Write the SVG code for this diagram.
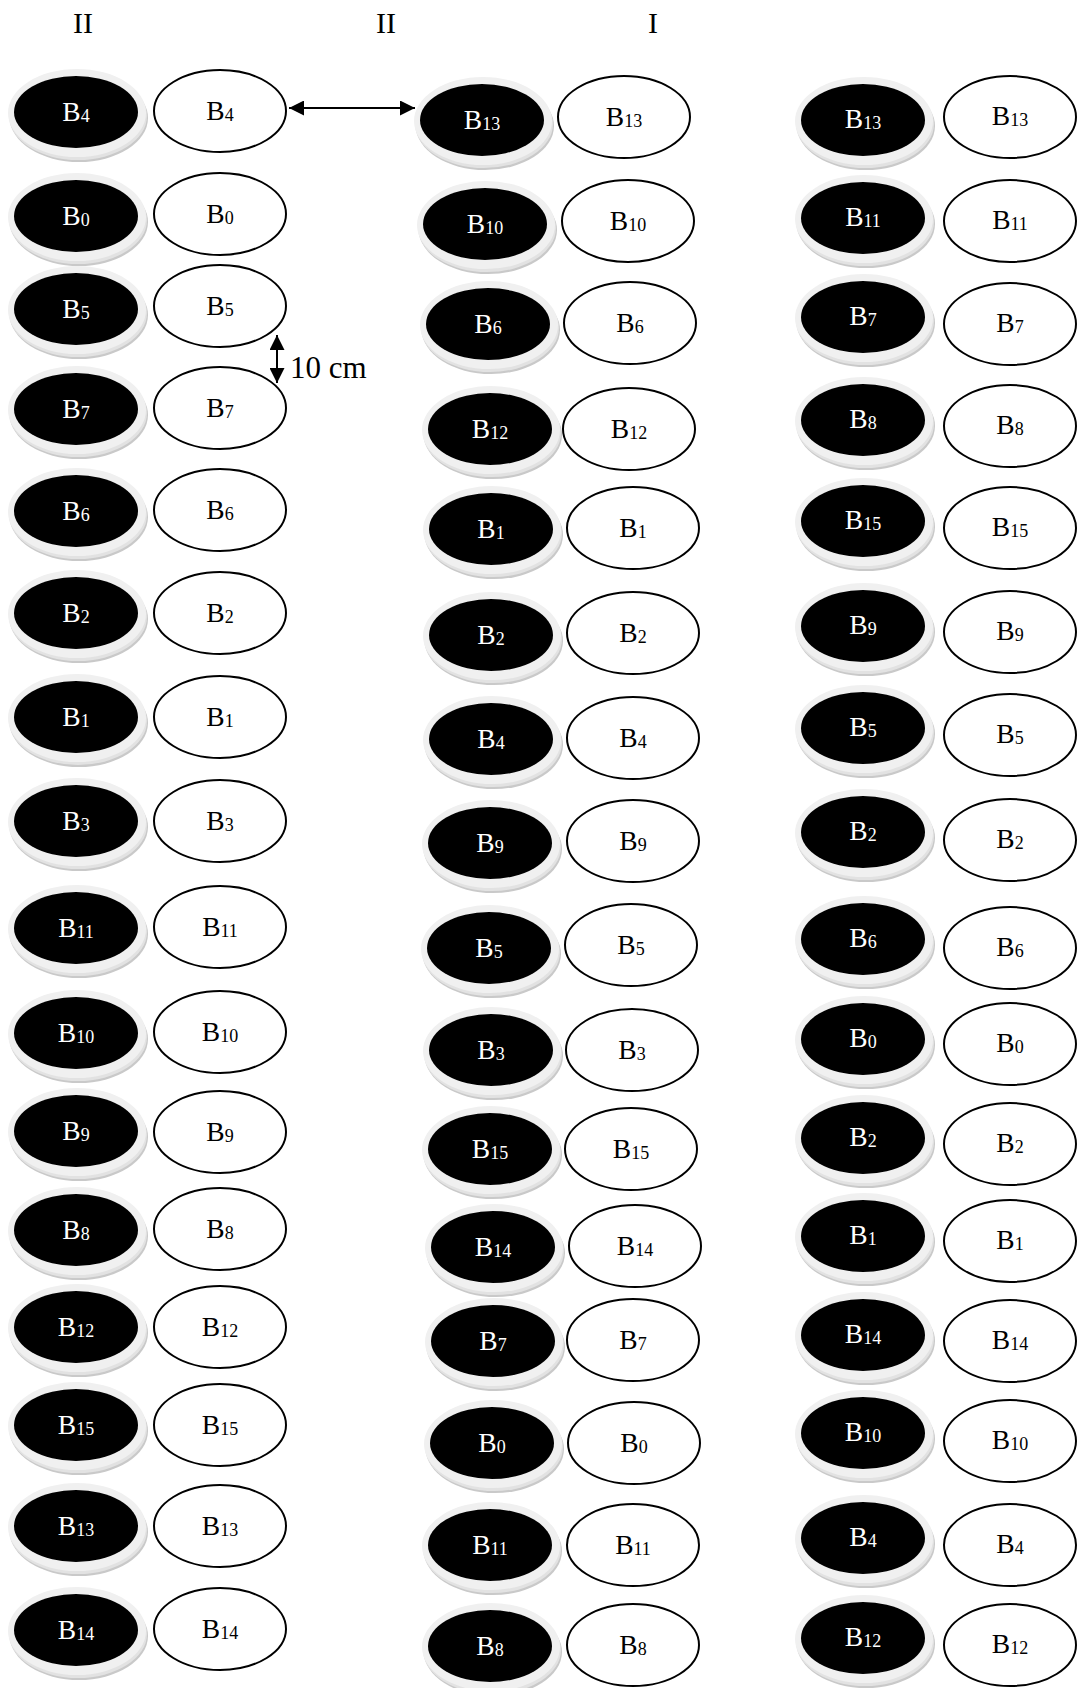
<svg xmlns="http://www.w3.org/2000/svg" xmlns:xlink="http://www.w3.org/1999/xlink" width="1079" height="1688" viewBox="0 0 1079 1688">
<style>
.w{fill:#fff;stroke:#000;stroke-width:2}
.lb{font-family:"Liberation Serif","Times New Roman",serif;font-size:27.5px;text-anchor:middle;fill:#000}
.lbw{fill:#fff}
.sub{font-size:18px}
.hd{font-family:"Liberation Serif","Times New Roman",serif;font-size:30px;text-anchor:middle;fill:#000}
.cm{font-family:"Liberation Serif","Times New Roman",serif;font-size:31px;fill:#000}
.conn{stroke:#000;stroke-width:2;fill:none}
</style>
<defs>
<g id="disc">
<ellipse cx="3" cy="6" rx="69" ry="44" fill="#c9c9c9"/>
<ellipse cx="2" cy="4" rx="69" ry="44" fill="#e2e2e2"/>
<ellipse cx="1" cy="1" rx="69" ry="44" fill="#f0f0f0"/>
<ellipse cx="0" cy="0" rx="62" ry="36" fill="#000"/>
</g>
<marker id="ah" viewBox="0 0 10 10" refX="10" refY="5" markerUnits="userSpaceOnUse" markerWidth="16" markerHeight="15" orient="auto-start-reverse">
<path d="M0,0 L10,5 L0,10 z" fill="#000"/>
</marker>
</defs>

<g id="headers">
<text class="hd" x="83" y="33">II</text>
<text class="hd" x="386" y="33">II</text>
<text class="hd" x="653" y="33">I</text>
</g>

<g id="connectors">
<line class="conn" x1="289" y1="108" x2="415" y2="108" marker-start="url(#ah)" marker-end="url(#ah)"/>
<line class="conn" x1="277" y1="335" x2="277" y2="383" marker-start="url(#ah)" marker-end="url(#ah)"/>
<text class="cm" x="290" y="378">10 cm</text>
</g>

<!-- Column 1 -->
<g id="c1-b4-dark"><use xlink:href="#disc" x="76" y="112"/><text class="lb lbw" x="76" y="121">B<tspan class="sub" dy="1">4</tspan></text></g>
<g id="c1-b4-light"><ellipse class="w" cx="220" cy="111" rx="66" ry="41"/><text class="lb" x="220" y="120">B<tspan class="sub" dy="1">4</tspan></text></g>
<g id="c1-b0-dark"><use xlink:href="#disc" x="76" y="216"/><text class="lb lbw" x="76" y="225">B<tspan class="sub" dy="1">0</tspan></text></g>
<g id="c1-b0-light"><ellipse class="w" cx="220" cy="214" rx="66" ry="41"/><text class="lb" x="220" y="223">B<tspan class="sub" dy="1">0</tspan></text></g>
<g id="c1-b5-dark"><use xlink:href="#disc" x="76" y="309"/><text class="lb lbw" x="76" y="318">B<tspan class="sub" dy="1">5</tspan></text></g>
<g id="c1-b5-light"><ellipse class="w" cx="220" cy="306" rx="66" ry="41"/><text class="lb" x="220" y="315">B<tspan class="sub" dy="1">5</tspan></text></g>
<g id="c1-b7-dark"><use xlink:href="#disc" x="76" y="409"/><text class="lb lbw" x="76" y="418">B<tspan class="sub" dy="1">7</tspan></text></g>
<g id="c1-b7-light"><ellipse class="w" cx="220" cy="408" rx="66" ry="41"/><text class="lb" x="220" y="417">B<tspan class="sub" dy="1">7</tspan></text></g>
<g id="c1-b6-dark"><use xlink:href="#disc" x="76" y="511"/><text class="lb lbw" x="76" y="520">B<tspan class="sub" dy="1">6</tspan></text></g>
<g id="c1-b6-light"><ellipse class="w" cx="220" cy="510" rx="66" ry="41"/><text class="lb" x="220" y="519">B<tspan class="sub" dy="1">6</tspan></text></g>
<g id="c1-b2-dark"><use xlink:href="#disc" x="76" y="613"/><text class="lb lbw" x="76" y="622">B<tspan class="sub" dy="1">2</tspan></text></g>
<g id="c1-b2-light"><ellipse class="w" cx="220" cy="613" rx="66" ry="41"/><text class="lb" x="220" y="622">B<tspan class="sub" dy="1">2</tspan></text></g>
<g id="c1-b1-dark"><use xlink:href="#disc" x="76" y="717"/><text class="lb lbw" x="76" y="726">B<tspan class="sub" dy="1">1</tspan></text></g>
<g id="c1-b1-light"><ellipse class="w" cx="220" cy="717" rx="66" ry="41"/><text class="lb" x="220" y="726">B<tspan class="sub" dy="1">1</tspan></text></g>
<g id="c1-b3-dark"><use xlink:href="#disc" x="76" y="821"/><text class="lb lbw" x="76" y="830">B<tspan class="sub" dy="1">3</tspan></text></g>
<g id="c1-b3-light"><ellipse class="w" cx="220" cy="821" rx="66" ry="41"/><text class="lb" x="220" y="830">B<tspan class="sub" dy="1">3</tspan></text></g>
<g id="c1-b11-dark"><use xlink:href="#disc" x="76" y="928"/><text class="lb lbw" x="76" y="937">B<tspan class="sub" dy="1">11</tspan></text></g>
<g id="c1-b11-light"><ellipse class="w" cx="220" cy="927" rx="66" ry="41"/><text class="lb" x="220" y="936">B<tspan class="sub" dy="1">11</tspan></text></g>
<g id="c1-b10-dark"><use xlink:href="#disc" x="76" y="1033"/><text class="lb lbw" x="76" y="1042">B<tspan class="sub" dy="1">10</tspan></text></g>
<g id="c1-b10-light"><ellipse class="w" cx="220" cy="1032" rx="66" ry="41"/><text class="lb" x="220" y="1041">B<tspan class="sub" dy="1">10</tspan></text></g>
<g id="c1-b9-dark"><use xlink:href="#disc" x="76" y="1131"/><text class="lb lbw" x="76" y="1140">B<tspan class="sub" dy="1">9</tspan></text></g>
<g id="c1-b9-light"><ellipse class="w" cx="220" cy="1132" rx="66" ry="41"/><text class="lb" x="220" y="1141">B<tspan class="sub" dy="1">9</tspan></text></g>
<g id="c1-b8-dark"><use xlink:href="#disc" x="76" y="1230"/><text class="lb lbw" x="76" y="1239">B<tspan class="sub" dy="1">8</tspan></text></g>
<g id="c1-b8-light"><ellipse class="w" cx="220" cy="1229" rx="66" ry="41"/><text class="lb" x="220" y="1238">B<tspan class="sub" dy="1">8</tspan></text></g>
<g id="c1-b12-dark"><use xlink:href="#disc" x="76" y="1327"/><text class="lb lbw" x="76" y="1336">B<tspan class="sub" dy="1">12</tspan></text></g>
<g id="c1-b12-light"><ellipse class="w" cx="220" cy="1327" rx="66" ry="41"/><text class="lb" x="220" y="1336">B<tspan class="sub" dy="1">12</tspan></text></g>
<g id="c1-b15-dark"><use xlink:href="#disc" x="76" y="1425"/><text class="lb lbw" x="76" y="1434">B<tspan class="sub" dy="1">15</tspan></text></g>
<g id="c1-b15-light"><ellipse class="w" cx="220" cy="1425" rx="66" ry="41"/><text class="lb" x="220" y="1434">B<tspan class="sub" dy="1">15</tspan></text></g>
<g id="c1-b13-dark"><use xlink:href="#disc" x="76" y="1526"/><text class="lb lbw" x="76" y="1535">B<tspan class="sub" dy="1">13</tspan></text></g>
<g id="c1-b13-light"><ellipse class="w" cx="220" cy="1526" rx="66" ry="41"/><text class="lb" x="220" y="1535">B<tspan class="sub" dy="1">13</tspan></text></g>
<g id="c1-b14-dark"><use xlink:href="#disc" x="76" y="1630"/><text class="lb lbw" x="76" y="1639">B<tspan class="sub" dy="1">14</tspan></text></g>
<g id="c1-b14-light"><ellipse class="w" cx="220" cy="1629" rx="66" ry="41"/><text class="lb" x="220" y="1638">B<tspan class="sub" dy="1">14</tspan></text></g>

<!-- Column 2 -->
<g id="c2-b13-dark"><use xlink:href="#disc" x="482" y="120"/><text class="lb lbw" x="482" y="129">B<tspan class="sub" dy="1">13</tspan></text></g>
<g id="c2-b13-light"><ellipse class="w" cx="624" cy="117" rx="66" ry="41"/><text class="lb" x="624" y="126">B<tspan class="sub" dy="1">13</tspan></text></g>
<g id="c2-b10-dark"><use xlink:href="#disc" x="485" y="224"/><text class="lb lbw" x="485" y="233">B<tspan class="sub" dy="1">10</tspan></text></g>
<g id="c2-b10-light"><ellipse class="w" cx="628" cy="221" rx="66" ry="41"/><text class="lb" x="628" y="230">B<tspan class="sub" dy="1">10</tspan></text></g>
<g id="c2-b6-dark"><use xlink:href="#disc" x="488" y="324"/><text class="lb lbw" x="488" y="333">B<tspan class="sub" dy="1">6</tspan></text></g>
<g id="c2-b6-light"><ellipse class="w" cx="630" cy="323" rx="66" ry="41"/><text class="lb" x="630" y="332">B<tspan class="sub" dy="1">6</tspan></text></g>
<g id="c2-b12-dark"><use xlink:href="#disc" x="490" y="429"/><text class="lb lbw" x="490" y="438">B<tspan class="sub" dy="1">12</tspan></text></g>
<g id="c2-b12-light"><ellipse class="w" cx="629" cy="429" rx="66" ry="41"/><text class="lb" x="629" y="438">B<tspan class="sub" dy="1">12</tspan></text></g>
<g id="c2-b1-dark"><use xlink:href="#disc" x="491" y="529"/><text class="lb lbw" x="491" y="538">B<tspan class="sub" dy="1">1</tspan></text></g>
<g id="c2-b1-light"><ellipse class="w" cx="633" cy="528" rx="66" ry="41"/><text class="lb" x="633" y="537">B<tspan class="sub" dy="1">1</tspan></text></g>
<g id="c2-b2-dark"><use xlink:href="#disc" x="491" y="635"/><text class="lb lbw" x="491" y="644">B<tspan class="sub" dy="1">2</tspan></text></g>
<g id="c2-b2-light"><ellipse class="w" cx="633" cy="633" rx="66" ry="41"/><text class="lb" x="633" y="642">B<tspan class="sub" dy="1">2</tspan></text></g>
<g id="c2-b4-dark"><use xlink:href="#disc" x="491" y="739"/><text class="lb lbw" x="491" y="748">B<tspan class="sub" dy="1">4</tspan></text></g>
<g id="c2-b4-light"><ellipse class="w" cx="633" cy="738" rx="66" ry="41"/><text class="lb" x="633" y="747">B<tspan class="sub" dy="1">4</tspan></text></g>
<g id="c2-b9-dark"><use xlink:href="#disc" x="490" y="843"/><text class="lb lbw" x="490" y="852">B<tspan class="sub" dy="1">9</tspan></text></g>
<g id="c2-b9-light"><ellipse class="w" cx="633" cy="841" rx="66" ry="41"/><text class="lb" x="633" y="850">B<tspan class="sub" dy="1">9</tspan></text></g>
<g id="c2-b5-dark"><use xlink:href="#disc" x="489" y="948"/><text class="lb lbw" x="489" y="957">B<tspan class="sub" dy="1">5</tspan></text></g>
<g id="c2-b5-light"><ellipse class="w" cx="631" cy="945" rx="66" ry="41"/><text class="lb" x="631" y="954">B<tspan class="sub" dy="1">5</tspan></text></g>
<g id="c2-b3-dark"><use xlink:href="#disc" x="491" y="1050"/><text class="lb lbw" x="491" y="1059">B<tspan class="sub" dy="1">3</tspan></text></g>
<g id="c2-b3-light"><ellipse class="w" cx="632" cy="1050" rx="66" ry="41"/><text class="lb" x="632" y="1059">B<tspan class="sub" dy="1">3</tspan></text></g>
<g id="c2-b15-dark"><use xlink:href="#disc" x="490" y="1149"/><text class="lb lbw" x="490" y="1158">B<tspan class="sub" dy="1">15</tspan></text></g>
<g id="c2-b15-light"><ellipse class="w" cx="631" cy="1149" rx="66" ry="41"/><text class="lb" x="631" y="1158">B<tspan class="sub" dy="1">15</tspan></text></g>
<g id="c2-b14-dark"><use xlink:href="#disc" x="493" y="1247"/><text class="lb lbw" x="493" y="1256">B<tspan class="sub" dy="1">14</tspan></text></g>
<g id="c2-b14-light"><ellipse class="w" cx="635" cy="1246" rx="66" ry="41"/><text class="lb" x="635" y="1255">B<tspan class="sub" dy="1">14</tspan></text></g>
<g id="c2-b7-dark"><use xlink:href="#disc" x="493" y="1341"/><text class="lb lbw" x="493" y="1350">B<tspan class="sub" dy="1">7</tspan></text></g>
<g id="c2-b7-light"><ellipse class="w" cx="633" cy="1340" rx="66" ry="41"/><text class="lb" x="633" y="1349">B<tspan class="sub" dy="1">7</tspan></text></g>
<g id="c2-b0-dark"><use xlink:href="#disc" x="492" y="1443"/><text class="lb lbw" x="492" y="1452">B<tspan class="sub" dy="1">0</tspan></text></g>
<g id="c2-b0-light"><ellipse class="w" cx="634" cy="1443" rx="66" ry="41"/><text class="lb" x="634" y="1452">B<tspan class="sub" dy="1">0</tspan></text></g>
<g id="c2-b11-dark"><use xlink:href="#disc" x="490" y="1545"/><text class="lb lbw" x="490" y="1554">B<tspan class="sub" dy="1">11</tspan></text></g>
<g id="c2-b11-light"><ellipse class="w" cx="633" cy="1545" rx="66" ry="41"/><text class="lb" x="633" y="1554">B<tspan class="sub" dy="1">11</tspan></text></g>
<g id="c2-b8-dark"><use xlink:href="#disc" x="490" y="1646"/><text class="lb lbw" x="490" y="1655">B<tspan class="sub" dy="1">8</tspan></text></g>
<g id="c2-b8-light"><ellipse class="w" cx="633" cy="1645" rx="66" ry="41"/><text class="lb" x="633" y="1654">B<tspan class="sub" dy="1">8</tspan></text></g>

<!-- Column 3 -->
<g id="c3-b13-dark"><use xlink:href="#disc" x="863" y="120"/><text class="lb lbw" x="863" y="128">B<tspan class="sub" dy="1">13</tspan></text></g>
<g id="c3-b13-light"><ellipse class="w" cx="1010" cy="117" rx="66" ry="41"/><text class="lb" x="1010" y="125">B<tspan class="sub" dy="1">13</tspan></text></g>
<g id="c3-b11-dark"><use xlink:href="#disc" x="863" y="218"/><text class="lb lbw" x="863" y="226">B<tspan class="sub" dy="1">11</tspan></text></g>
<g id="c3-b11-light"><ellipse class="w" cx="1010" cy="221" rx="66" ry="41"/><text class="lb" x="1010" y="229">B<tspan class="sub" dy="1">11</tspan></text></g>
<g id="c3-b7-dark"><use xlink:href="#disc" x="863" y="317"/><text class="lb lbw" x="863" y="325">B<tspan class="sub" dy="1">7</tspan></text></g>
<g id="c3-b7-light"><ellipse class="w" cx="1010" cy="324" rx="66" ry="41"/><text class="lb" x="1010" y="332">B<tspan class="sub" dy="1">7</tspan></text></g>
<g id="c3-b8-dark"><use xlink:href="#disc" x="863" y="420"/><text class="lb lbw" x="863" y="428">B<tspan class="sub" dy="1">8</tspan></text></g>
<g id="c3-b8-light"><ellipse class="w" cx="1010" cy="426" rx="66" ry="41"/><text class="lb" x="1010" y="434">B<tspan class="sub" dy="1">8</tspan></text></g>
<g id="c3-b15-dark"><use xlink:href="#disc" x="863" y="521"/><text class="lb lbw" x="863" y="529">B<tspan class="sub" dy="1">15</tspan></text></g>
<g id="c3-b15-light"><ellipse class="w" cx="1010" cy="528" rx="66" ry="41"/><text class="lb" x="1010" y="536">B<tspan class="sub" dy="1">15</tspan></text></g>
<g id="c3-b9-dark"><use xlink:href="#disc" x="863" y="626"/><text class="lb lbw" x="863" y="634">B<tspan class="sub" dy="1">9</tspan></text></g>
<g id="c3-b9-light"><ellipse class="w" cx="1010" cy="632" rx="66" ry="41"/><text class="lb" x="1010" y="640">B<tspan class="sub" dy="1">9</tspan></text></g>
<g id="c3-b5-dark"><use xlink:href="#disc" x="863" y="728"/><text class="lb lbw" x="863" y="736">B<tspan class="sub" dy="1">5</tspan></text></g>
<g id="c3-b5-light"><ellipse class="w" cx="1010" cy="735" rx="66" ry="41"/><text class="lb" x="1010" y="743">B<tspan class="sub" dy="1">5</tspan></text></g>
<g id="c3-b2a-dark"><use xlink:href="#disc" x="863" y="832"/><text class="lb lbw" x="863" y="840">B<tspan class="sub" dy="1">2</tspan></text></g>
<g id="c3-b2a-light"><ellipse class="w" cx="1010" cy="840" rx="66" ry="41"/><text class="lb" x="1010" y="848">B<tspan class="sub" dy="1">2</tspan></text></g>
<g id="c3-b6-dark"><use xlink:href="#disc" x="863" y="939"/><text class="lb lbw" x="863" y="947">B<tspan class="sub" dy="1">6</tspan></text></g>
<g id="c3-b6-light"><ellipse class="w" cx="1010" cy="948" rx="66" ry="41"/><text class="lb" x="1010" y="956">B<tspan class="sub" dy="1">6</tspan></text></g>
<g id="c3-b0-dark"><use xlink:href="#disc" x="863" y="1039"/><text class="lb lbw" x="863" y="1047">B<tspan class="sub" dy="1">0</tspan></text></g>
<g id="c3-b0-light"><ellipse class="w" cx="1010" cy="1044" rx="66" ry="41"/><text class="lb" x="1010" y="1052">B<tspan class="sub" dy="1">0</tspan></text></g>
<g id="c3-b2b-dark"><use xlink:href="#disc" x="863" y="1138"/><text class="lb lbw" x="863" y="1146">B<tspan class="sub" dy="1">2</tspan></text></g>
<g id="c3-b2b-light"><ellipse class="w" cx="1010" cy="1144" rx="66" ry="41"/><text class="lb" x="1010" y="1152">B<tspan class="sub" dy="1">2</tspan></text></g>
<g id="c3-b1-dark"><use xlink:href="#disc" x="863" y="1236"/><text class="lb lbw" x="863" y="1244">B<tspan class="sub" dy="1">1</tspan></text></g>
<g id="c3-b1-light"><ellipse class="w" cx="1010" cy="1241" rx="66" ry="41"/><text class="lb" x="1010" y="1249">B<tspan class="sub" dy="1">1</tspan></text></g>
<g id="c3-b14-dark"><use xlink:href="#disc" x="863" y="1335"/><text class="lb lbw" x="863" y="1343">B<tspan class="sub" dy="1">14</tspan></text></g>
<g id="c3-b14-light"><ellipse class="w" cx="1010" cy="1341" rx="66" ry="41"/><text class="lb" x="1010" y="1349">B<tspan class="sub" dy="1">14</tspan></text></g>
<g id="c3-b10-dark"><use xlink:href="#disc" x="863" y="1433"/><text class="lb lbw" x="863" y="1441">B<tspan class="sub" dy="1">10</tspan></text></g>
<g id="c3-b10-light"><ellipse class="w" cx="1010" cy="1441" rx="66" ry="41"/><text class="lb" x="1010" y="1449">B<tspan class="sub" dy="1">10</tspan></text></g>
<g id="c3-b4-dark"><use xlink:href="#disc" x="863" y="1538"/><text class="lb lbw" x="863" y="1546">B<tspan class="sub" dy="1">4</tspan></text></g>
<g id="c3-b4-light"><ellipse class="w" cx="1010" cy="1545" rx="66" ry="41"/><text class="lb" x="1010" y="1553">B<tspan class="sub" dy="1">4</tspan></text></g>
<g id="c3-b12-dark"><use xlink:href="#disc" x="863" y="1638"/><text class="lb lbw" x="863" y="1646">B<tspan class="sub" dy="1">12</tspan></text></g>
<g id="c3-b12-light"><ellipse class="w" cx="1010" cy="1645" rx="66" ry="41"/><text class="lb" x="1010" y="1653">B<tspan class="sub" dy="1">12</tspan></text></g>
</svg>
